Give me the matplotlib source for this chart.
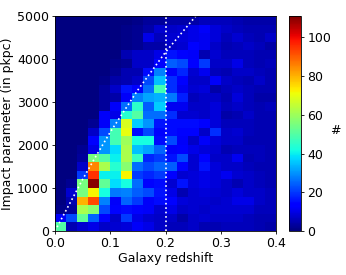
import matplotlib
matplotlib.use("Agg")
import matplotlib.pyplot as plt
import numpy as np

# Counts per bin (bottom row first, 20 redshift bins)
counts = np.array([
    [50, 5, 8, 10, 7, 8, 9, 12, 10, 7, 6, 6, 7, 5, 5, 6, 6, 6, 5, 4],
    [12, 22, 52, 25, 14, 7, 20, 10, 8, 7, 7, 4, 7, 8, 7, 7, 7, 6, 5, 5],
    [1, 3, 62, 57, 22, 14, 15, 14, 12, 8, 10, 7, 8, 7, 8, 8, 8, 8, 6, 6],
    [0, 5, 80, 92, 28, 12, 25, 20, 12, 15, 14, 9, 8, 8, 7, 8, 10, 10, 7, 6],
    [0, 8, 55, 72, 42, 27, 28, 24, 22, 16, 10, 5, 8, 9, 8, 7, 9, 7, 7, 6],
    [0, 2, 55, 110, 52, 38, 42, 26, 14, 15, 8, 16, 9, 10, 9, 7, 5, 7, 6, 5],
    [0, 0, 20, 95, 40, 40, 72, 20, 18, 20, 14, 8, 9, 10, 9, 11, 8, 7, 6, 5],
    [0, 0, 7, 85, 62, 44, 57, 26, 22, 25, 24, 14, 8, 16, 9, 7, 7, 6, 5, 5],
    [0, 0, 3, 55, 50, 40, 62, 46, 18, 20, 16, 22, 8, 14, 7, 7, 11, 5, 6, 5],
    [0, 0, 2, 10, 30, 38, 62, 35, 32, 25, 12, 13, 10, 9, 8, 5, 6, 6, 6, 5],
    [0, 0, 0, 14, 30, 48, 60, 42, 42, 15, 22, 12, 7, 12, 9, 7, 7, 5, 5, 5],
    [0, 0, 0, 7, 22, 48, 70, 15, 22, 14, 15, 14, 14, 7, 19, 7, 8, 6, 5, 5],
    [0, 0, 0, 2, 12, 28, 68, 36, 30, 16, 15, 15, 15, 13, 9, 6, 6, 6, 5, 5],
    [0, 0, 0, 0, 12, 10, 44, 50, 26, 26, 19, 8, 8, 7, 9, 4, 5, 7, 5, 5],
    [0, 0, 0, 0, 3, 12, 26, 45, 24, 36, 11, 11, 7, 7, 9, 6, 7, 6, 5, 6],
    [0, 0, 0, 0, 3, 4, 12, 28, 32, 33, 27, 17, 6, 7, 7, 5, 9, 6, 4, 4],
    [0, 0, 0, 0, 3, 7, 16, 13, 26, 48, 19, 11, 8, 9, 4, 6, 7, 6, 5, 5],
    [0, 0, 0, 0, 1, 4, 5, 7, 22, 35, 19, 13, 7, 7, 12, 7, 6, 5, 7, 5],
    [0, 0, 0, 0, 0, 2, 5, 5, 15, 28, 12, 18, 8, 11, 6, 5, 7, 7, 6, 5],
    [0, 0, 0, 0, 0, 1, 2, 7, 7, 14, 24, 22, 13, 20, 7, 7, 10, 6, 5, 6],
    [0, 0, 0, 0, 0, 0, 5, 7, 7, 10, 16, 14, 12, 5, 8, 6, 6, 6, 5, 5],
    [0, 0, 0, 0, 0, 0, 1, 2, 4, 4, 7, 8, 14, 11, 7, 5, 6, 7, 6, 4],
    [0, 0, 0, 0, 0, 0, 1, 2, 10, 6, 8, 9, 10, 11, 9, 6, 8, 6, 5, 7],
    [0, 0, 0, 0, 0, 0, 1, 2, 4, 8, 7, 8, 10, 12, 9, 7, 6, 5, 5, 5],
    [0, 0, 0, 0, 0, 0, 0, 1, 3, 3, 4, 4, 4, 6, 6, 6, 5, 4, 4, 4],
])
z_edges = np.linspace(0, 0.4, 21)
b_edges = np.linspace(0, 5000, 26)

# Dotted curve
curve_z = [0.0, 0.02, 0.033, 0.05, 0.07, 0.1, 0.15, 0.2, 0.255]
curve_b = [0, 480, 790, 1200, 1650, 2300, 3280, 4160, 5000]
cut_z = [0.2, 0.2]
cut_b = [0, 5000]

fig = plt.figure(figsize=(3.46, 2.75), dpi=100)
ax = fig.add_axes([55 / 346, 1 - 231 / 275, 221 / 346, 215 / 275])
cax = fig.add_axes([289 / 346, 1 - 231 / 275, 12 / 346, 215 / 275])

mesh = ax.pcolormesh(z_edges, b_edges, counts, cmap="jet", vmin=0, vmax=111)
ax.plot(curve_z, curve_b, color="white", ls=":", lw=1.2)
ax.plot(cut_z, cut_b, color="white", ls=":", lw=1.2)
ax.set_xlim(0, 0.4)
ax.set_ylim(0, 5000)
ax.set_xticks([0, 0.1, 0.2, 0.3, 0.4])
ax.set_yticks([0, 1000, 2000, 3000, 4000, 5000])
ax.tick_params(labelsize=9, length=2.5, width=0.6, pad=2)
ax.set_xlabel("Galaxy redshift", fontsize=9, labelpad=1)
ax.set_ylabel("Impact parameter (in pkpc)", fontsize=9, labelpad=2)
for s in ax.spines.values():
    s.set_linewidth(0.6)

cb = fig.colorbar(mesh, cax=cax)
cb.set_ticks([0, 20, 40, 60, 80, 100])
cb.ax.tick_params(labelsize=9, length=2.5, width=0.6, pad=2)
cb.outline.set_linewidth(0.6)
cb.set_label("#", fontsize=9, rotation=0, labelpad=3)

fig.savefig("out.png", dpi=100)
